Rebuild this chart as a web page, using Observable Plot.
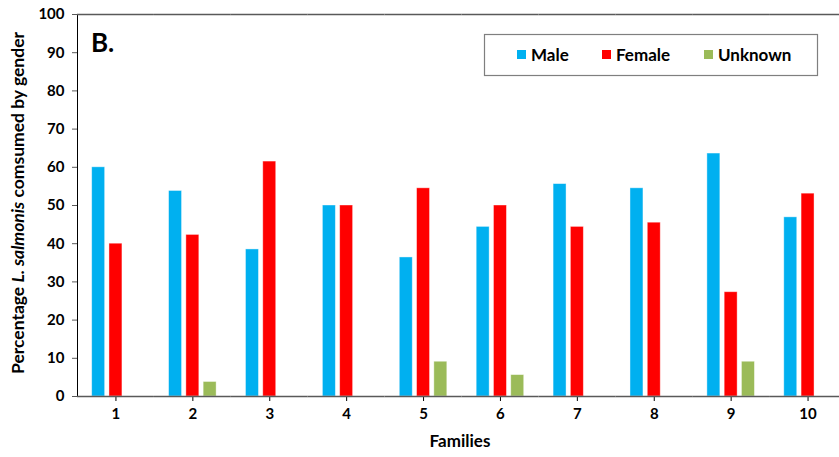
<!DOCTYPE html>
<html><head><meta charset="utf-8">
<script src="https://cdn.jsdelivr.net/npm/d3@7"></script>
<script src="https://cdn.jsdelivr.net/npm/@observablehq/plot@0.6"></script>
<style>
body{margin:0;background:#fff;overflow:hidden;font-family:Lato,sans-serif}
#wrap{position:relative;width:839px;height:457px;overflow:hidden}
#wrap svg{max-width:none}
</style></head><body><div id="wrap"></div>
<script>
const families = ["1","2","3","4","5","6","7","8","9","10"];
const genders = ["Male","Female","Unknown"];
const colors = ["#00B0F0","#FF0000","#9BBB59"];
const male    = [60, 53.8, 38.5, 50, 36.4, 44.4, 55.6, 54.5, 63.6, 46.9];
const female  = [40, 42.3, 61.5, 50, 54.5, 50, 44.4, 45.5, 27.3, 53.1];
const unknown = [0, 3.8, 0, 0, 9.1, 5.6, 0, 0, 9.1, 0];
const yTicks = [0,10,20,30,40,50,60,70,80,90,100];

const data = [];
families.forEach((f, i) => {
  data.push({family: f, gender: "Male", value: male[i]});
  data.push({family: f, gender: "Female", value: female[i]});
  data.push({family: f, gender: "Unknown", value: unknown[i]});
});

const plot = Plot.plot({
  width: 846, height: 457,
  marginLeft: 77, marginTop: 14, marginBottom: 61, marginRight: 0,
  style: {fontFamily: "Lato, sans-serif", fontSize: "15px", fontWeight: "bold", color: "#000", background: "#fff"},
  facet: {data, x: "family"},
  fx: {domain: families, padding: 0, round: false, label: null, tickSize: 5, tickPadding: 7},
  x: {domain: genders, paddingInner: 0.25, paddingOuter: 0.85, round: false, axis: null},
  y: {domain: [0, 100], ticks: yTicks, tickSize: 5, tickPadding: 8, label: null, line: true},
  color: {domain: genders, range: colors},
  marks: [
    Plot.barY(data, {filter: d => d.value > 0, x: "gender", y: "value", fill: "gender", stroke: "#fff", strokeOpacity: 0.5, strokeWidth: 0.8}),
    Plot.ruleY([0, 100], {stroke: "#595959", strokeWidth: 1.3})
  ]
});
document.getElementById("wrap").appendChild(plot);

const svg = d3.select(plot);
svg.selectAll("[aria-label='y-axis'] path, [aria-label='y-axis tick'] path, [aria-label='fx-axis'] path").attr("stroke", "#595959");

// y-axis title with italic species name
const t = svg.append("text")
  .attr("transform", "translate(24,203) rotate(-90)")
  .attr("text-anchor", "middle")
  .style("font-size", "17.5px").style("font-weight", "bold").attr("fill", "#000");
t.append("tspan").text("Percentage ");
t.append("tspan").style("font-style", "italic").text("L. salmonis");
t.append("tspan").text(" comsumed by gender");

// x-axis title
svg.append("text").attr("x", 460).attr("y", 447).attr("text-anchor", "middle")
  .style("font-size", "17px").style("font-weight", "bold").text("Families");

// panel letter
svg.append("text").attr("x", 91).attr("y", 52).attr("text-anchor", "start")
  .style("font-size", "26px").style("font-weight", "bold").text("B.");

// legend
const lg = svg.append("g");
lg.append("rect").attr("x", 484.5).attr("y", 34.5).attr("width", 333).attr("height", 41)
  .attr("fill", "#fff").attr("stroke", "#7f7f7f").attr("stroke-width", 1.2);
const lx = [517, 602, 704];
genders.forEach((g, i) => {
  lg.append("rect").attr("x", lx[i]).attr("y", 50).attr("width", 9).attr("height", 9).attr("fill", colors[i]);
  lg.append("text").attr("x", lx[i] + 14).attr("y", 61).attr("text-anchor", "start")
    .style("font-size", "17px").style("font-weight", "bold").text(g);
});
</script>
</body></html>
